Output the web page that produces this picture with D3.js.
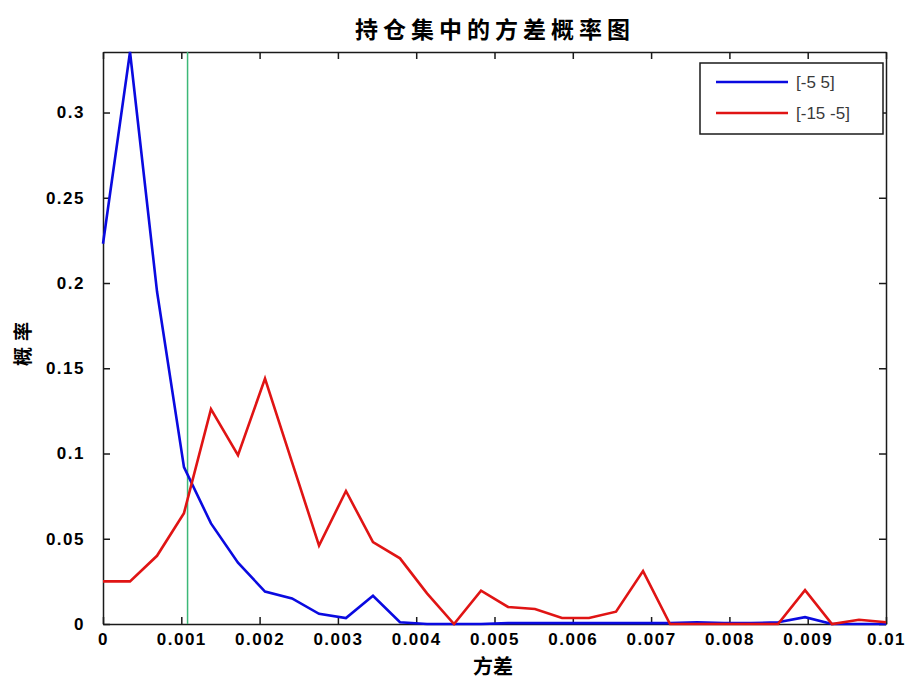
<!DOCTYPE html>
<html>
<head>
<meta charset="utf-8">
<script src="https://d3js.org/d3.v7.min.js"></script>
<style>
    body { margin: 0; background: #fff; }
    #chart-area { width: 911px; height: 680px; }
    .axis path, .axis line { stroke: #1a1a1a; stroke-width: 1.5; }
    .axis text { font-family: "Liberation Sans", Arial, sans-serif; font-weight: bold; font-size: 17px; fill: #000; letter-spacing: 1.5px; }
</style>
</head>
<body>
<div id="chart-area"></div>
<script>

// variance values (x), one point per histogram bin
let varianceX = [0, 0.000345, 0.00069, 0.001034, 0.001379, 0.001724, 0.002069, 0.002414, 0.002759, 0.003103,
    0.003448, 0.003793, 0.004138, 0.004483, 0.004828, 0.005172, 0.005517, 0.005862, 0.006207, 0.006552,
    0.006897, 0.007241, 0.007586, 0.007931, 0.008276, 0.008621, 0.008966, 0.00931, 0.009655, 0.01];

// probability for [-5 5]
let probBlue = [0.223, 0.3355, 0.195, 0.092, 0.059, 0.036, 0.019, 0.015, 0.006, 0.0035,
    0.0165, 0.001, 0, 0, 0, 0.0005, 0.0005, 0.0005, 0.0005, 0.0005,
    0.0005, 0.0005, 0.001, 0.0005, 0.0005, 0.001, 0.004, 0, 0, 0];

// probability for [-15 -5]
let probRed = [0.025, 0.025, 0.04, 0.065, 0.126, 0.099, 0.144, 0.095, 0.046, 0.078,
    0.048, 0.0385, 0.018, 0, 0.0195, 0.010, 0.0088, 0.0035, 0.0035, 0.0072,
    0.031, 0, 0, 0, 0, 0, 0.0199, 0, 0.0025, 0.001];

let seriesNames = ["[-5 5]", "[-15 -5]"];
let seriesColors = ["#0a0ae0", "#e01414"];

let xTicks = [0, 0.001, 0.002, 0.003, 0.004, 0.005, 0.006, 0.007, 0.008, 0.009, 0.01];
let yTicks = [0, 0.05, 0.1, 0.15, 0.2, 0.25, 0.3];
let xTickLabels = ["0", "0.001", "0.002", "0.003", "0.004", "0.005", "0.006", "0.007", "0.008", "0.009", "0.01"];
let yTickLabels = ["0", "0.05", "0.1", "0.15", "0.2", "0.25", "0.3"];

let markerX = 0.00108;   // green reference line
let xDomain = [0, 0.01];
let yDomain = [0, 0.3355];


class LineChartVis {

    constructor(parentElement) {
        this.parentElement = parentElement;
        this.initVis();
    }

    initVis() {
        let vis = this;

        vis.margin = { top: 52, right: 25, bottom: 56, left: 103 };
        vis.width = 911 - vis.margin.left - vis.margin.right;
        vis.height = 680 - vis.margin.top - vis.margin.bottom;

        vis.svg = d3.select("#" + vis.parentElement).append("svg")
            .attr("width", 911)
            .attr("height", 680)
            .append("g")
            .attr("transform", "translate(" + vis.margin.left + "," + vis.margin.top + ")");

        // Scales
        vis.x = d3.scaleLinear().domain(xDomain).range([0, vis.width]);
        vis.y = d3.scaleLinear().domain(yDomain).range([vis.height, 0]);

        // Axes, ticks pointing inward like matlab
        vis.xAxis = d3.axisBottom(vis.x).tickValues(xTicks)
            .tickSizeInner(-7).tickSizeOuter(0).tickPadding(9)
            .tickFormat((d, i) => xTickLabels[i]);
        vis.yAxis = d3.axisLeft(vis.y).tickValues(yTicks)
            .tickSizeInner(-7).tickSizeOuter(0).tickPadding(18)
            .tickFormat((d, i) => yTickLabels[i]);

        vis.svg.append("g")
            .attr("class", "x-axis axis")
            .attr("transform", "translate(0," + vis.height + ")")
            .call(vis.xAxis);

        vis.svg.append("g")
            .attr("class", "y-axis axis")
            .call(vis.yAxis);

        // top and right ticks, no labels
        vis.svg.append("g")
            .attr("class", "axis")
            .call(d3.axisTop(vis.x).tickValues(xTicks).tickSizeInner(-7).tickSizeOuter(0).tickFormat(""));
        vis.svg.append("g")
            .attr("class", "axis")
            .attr("transform", "translate(" + vis.width + ",0)")
            .call(d3.axisRight(vis.y).tickValues(yTicks).tickSizeInner(-7).tickSizeOuter(0).tickFormat(""));

        // Green marker line
        vis.svg.append("line")
            .attr("x1", vis.x(markerX))
            .attr("x2", vis.x(markerX))
            .attr("y1", 0)
            .attr("y2", vis.height)
            .attr("stroke", "#3cb878")
            .attr("stroke-width", 1.5);

        // Lines
        let lineData = [probBlue, probRed];
        let line = d3.line()
            .x((d, i) => vis.x(varianceX[i]))
            .y(d => vis.y(d));

        vis.svg.selectAll(".series")
            .data(lineData)
            .enter().append("path")
            .attr("class", "series")
            .attr("d", line)
            .attr("fill", "none")
            .attr("stroke", (d, i) => seriesColors[i])
            .attr("stroke-width", 2.6)
            .attr("stroke-linejoin", "miter");

        // Chart title
        vis.svg.append("text")
            .attr("x", 392)
            .attr("y", -14)
            .attr("text-anchor", "middle")
            .style("font-family", "'Noto Sans CJK SC'")
            .style("font-weight", "bold")
            .style("font-size", "23px")
            .style("letter-spacing", "5px")
            .text("持仓集中的方差概率图");

        // Axis labels
        vis.svg.append("text")
            .attr("x", 390)
            .attr("y", vis.height + 50)
            .attr("text-anchor", "middle")
            .style("font-family", "'Noto Sans CJK SC'")
            .style("font-weight", "bold")
            .style("font-size", "20px")
            .text("方差");

        vis.svg.append("text")
            .attr("transform", "translate(" + (-73) + "," + (vis.height - 283) + ") rotate(-90)")
            .attr("text-anchor", "middle")
            .style("font-family", "'Noto Sans CJK SC'")
            .style("font-weight", "bold")
            .style("font-size", "19px")
            .style("letter-spacing", "6px")
            .text("概率");

        // Legend
        let legend = vis.svg.append("g")
            .attr("transform", "translate(" + (vis.width - 186) + ",11)");

        legend.append("rect")
            .attr("width", 183)
            .attr("height", 71)
            .attr("fill", "#fff")
            .attr("stroke", "#1a1a1a")
            .attr("stroke-width", 1.5);

        seriesNames.forEach((name, i) => {
            legend.append("line")
                .attr("x1", 16).attr("x2", 88)
                .attr("y1", 19 + i * 31).attr("y2", 19 + i * 31)
                .attr("stroke", seriesColors[i])
                .attr("stroke-width", 2.6);
            legend.append("text")
                .attr("x", 96)
                .attr("y", 25 + i * 31)
                .style("font-family", "'Liberation Sans', Arial, sans-serif")
                .style("font-size", "17px")
                .style("fill", "#3a3a3a")
                .text(name);
        });
    }
}

let chart = new LineChartVis("chart-area");

</script>
</body>
</html>
